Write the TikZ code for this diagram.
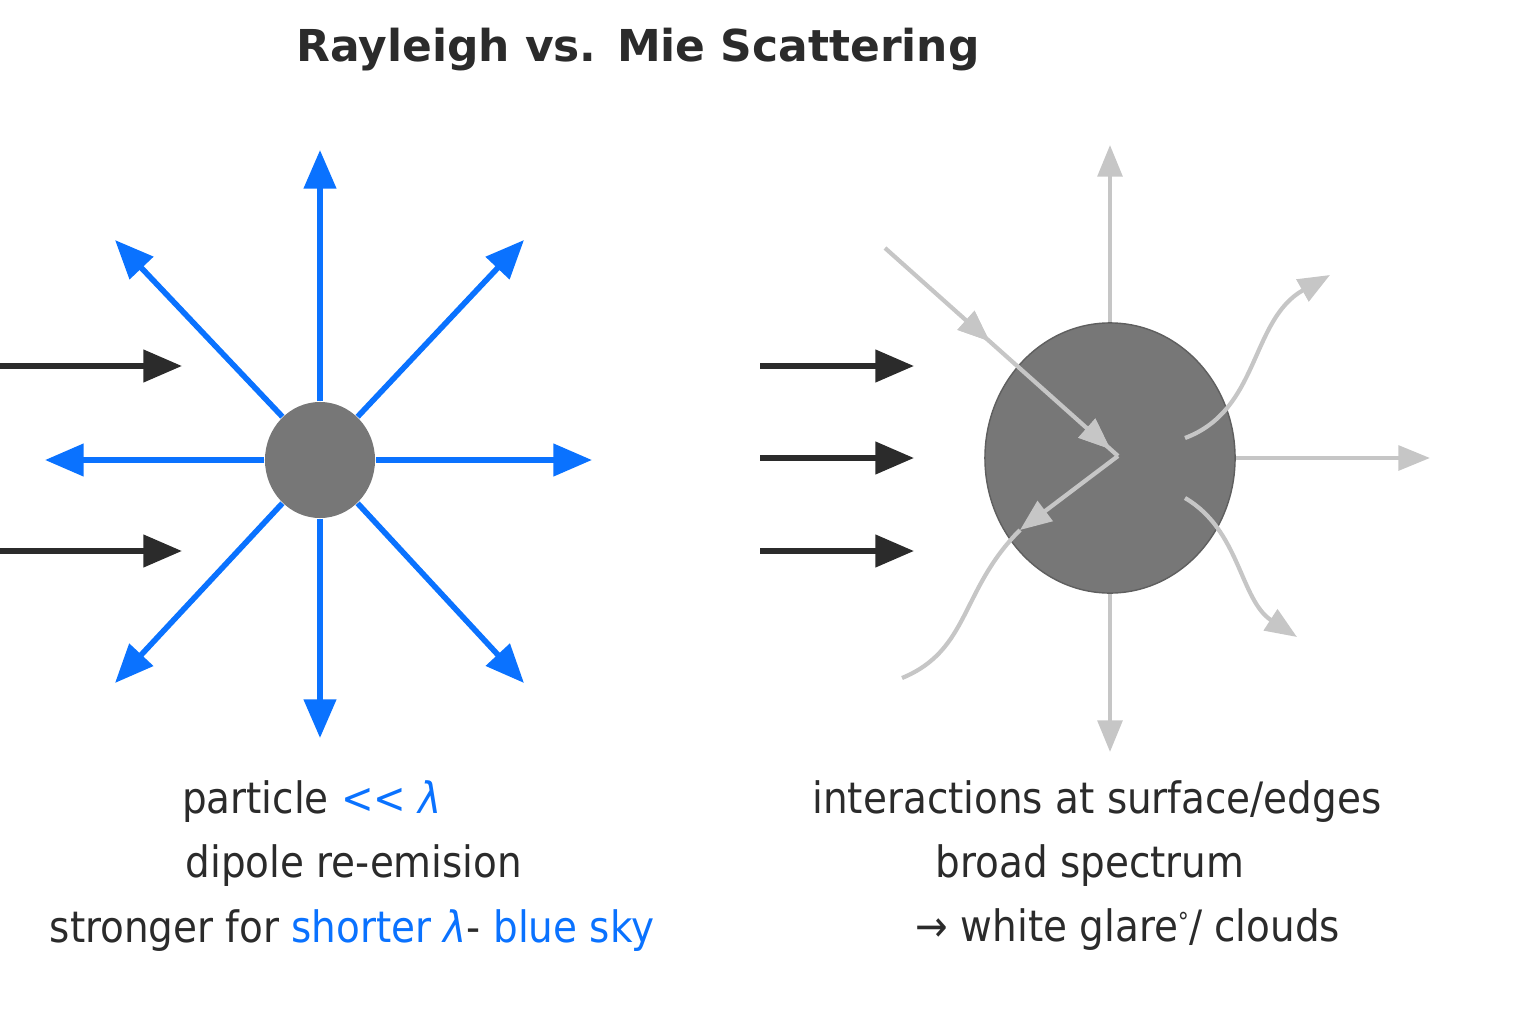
\documentclass[tikz,border=0pt]{standalone}
\usepackage{fontspec}
\setmainfont{DejaVu Sans Condensed}
\newfontfamily\titlefont{DejaVu Sans}
\usetikzlibrary{arrows.meta,decorations.markings,shapes.geometric}
\definecolor{skyblue}{HTML}{0A72FF}
\definecolor{dust}{HTML}{777777}
\definecolor{faint}{HTML}{C6C6C6}
\definecolor{ink}{HTML}{2B2B2B}
\tikzset{
	blue ray/.style={draw=skyblue,line width=1.6pt,-{Triangle[length=11pt,width=9pt]}},
	gray ray/.style={draw=faint,line width=1.2pt,-{Triangle[length=9pt,width=7pt]}},
	beam/.style={draw=ink,line width=1.6pt,-{Triangle[length=11pt,width=9pt]}},
	label/.style={font=\fontsize{12.3pt}{15pt}\selectfont,text=ink,align=center},
	midarrow/.style={postaction={decorate},decoration={markings,mark=at position #1 with {\arrow{Triangle[length=9pt,width=7pt]}}}}
}
\begin{document}
\begin{tikzpicture}[x=0.01cm,y=-0.01cm]
	\useasboundingbox (0,0) rectangle (1536,1024);
	\node[font=\titlefont\bfseries\fontsize{12.5pt}{15pt}\selectfont,text=ink] (title) at (638,50) {Rayleigh vs. Mie Scattering};

	% Rayleigh
	\node[ellipse,fill=dust,minimum width=1.1cm,minimum height=1.16cm,inner sep=0] (small) at (320,460) {};
	\foreach \ang/\x/\y in {90/320/150, 270/320/738, 180/45/460, 0/592/460, 131/115/240, 49/524/240, 229/115/683, 311/524/683}
		\draw[blue ray] (small.\ang) -- (\x,\y);
	\coordinate (in1) at (0,366);
	\coordinate (in2) at (0,551);
	\draw[beam] (in1) -- (182,366);
	\draw[beam] (in2) -- (182,551);

	% Mie
	\node[ellipse,fill=dust,draw=dust!80!black,thin,minimum width=2.5cm,minimum height=2.7cm,inner sep=0] (big) at (1110,458) {};
	\draw[gray ray] (big.north) -- (1110,145);
	\draw[gray ray] (big.south) -- (1110,752);
	\draw[gray ray] (big.east) -- (1430,458);
	\foreach \y in {366,458,551}
		\draw[beam] (760,\y) -- (914,\y);
	\coordinate (hit) at (1118,456);
	\draw[faint,line width=1.2pt,midarrow=0.45,midarrow=0.97] (885,248) -- (hit);
	\draw[gray ray] (hit) -- (1020,530);
	\draw[faint,line width=1.2pt] (1020,530) .. controls (960,590) and (970,650) .. (902,678);
	\draw[gray ray] (1185,438) .. controls (1260,410) and (1250,320) .. (1330,275);
	\draw[gray ray] (1185,498) .. controls (1240,530) and (1240,600) .. (1297,637);

	% captions
	\node[label] (r1) at (312,802) {particle \textcolor{skyblue}{{<}{<} \textit{λ}}};
	\node[label] (r2) at (354,866) {dipole re-emision};
	\node[label] (r3) at (352,931) {stronger for \textcolor{skyblue}{shorter \textit{λ}}- \textcolor{skyblue}{blue sky}};
	\node[label] (m1) at (1097,802) {interactions at surface/edges};
	\node[label] (m2) at (1090,866) {broad spectrum};
	\node[label] (m3) at (1128,930) {→ white glare\raisebox{0.5ex}{\scriptsize°}/ clouds};
\end{tikzpicture}
\end{document}
